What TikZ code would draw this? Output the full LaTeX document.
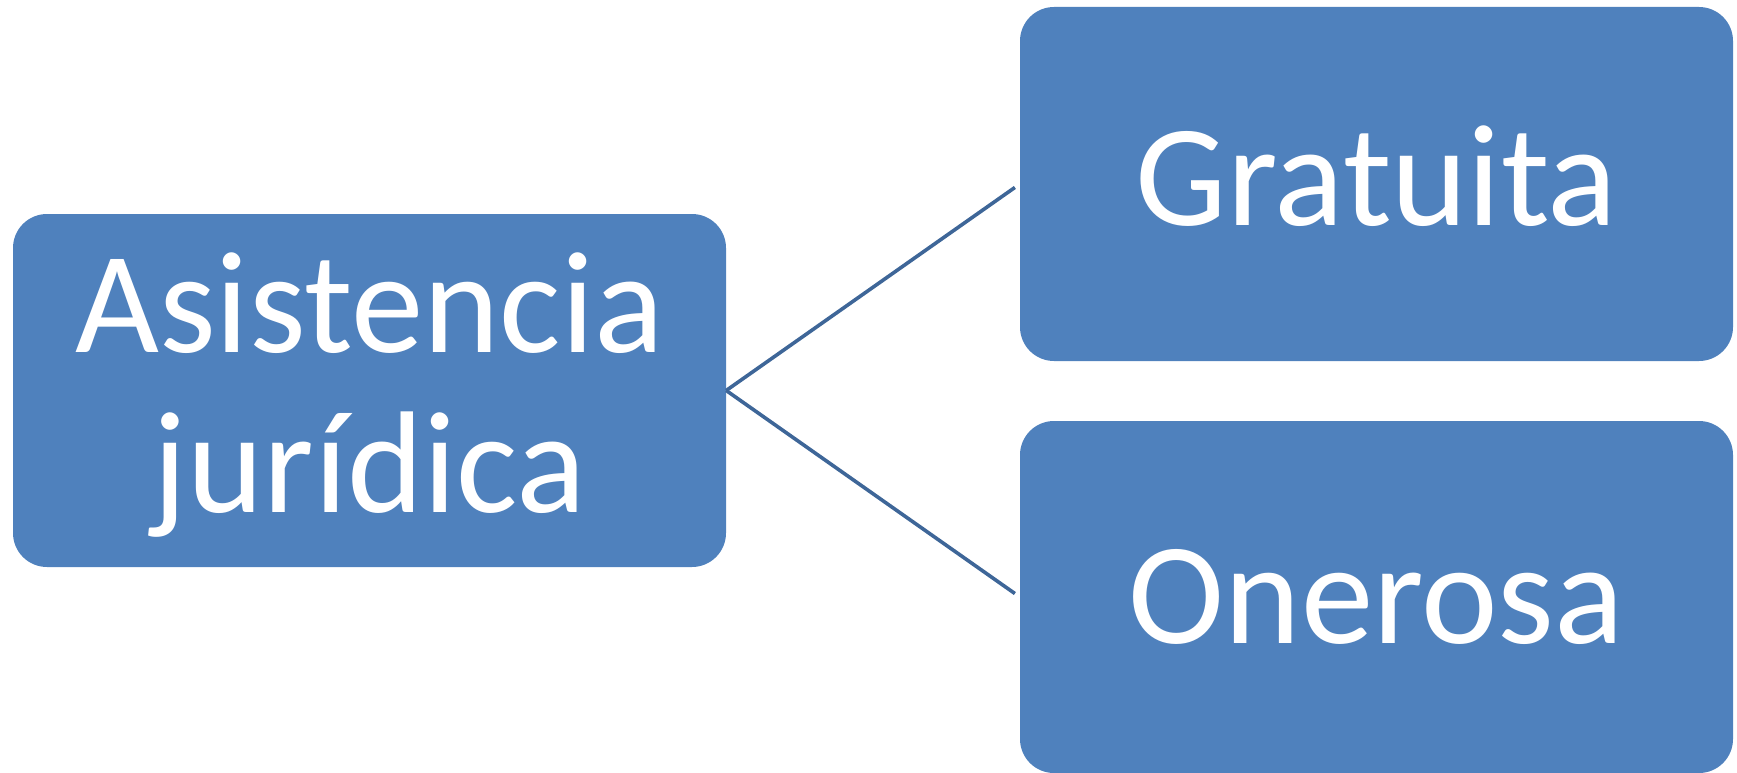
\documentclass[tikz,border=0pt]{standalone}
\usepackage{fontspec}
\setmainfont{Carlito}
\definecolor{boxblue}{HTML}{4F81BD}
\definecolor{lineblue}{RGB}{62,102,152}
\tikzset{
  box/.style={draw=none, fill=boxblue, rounded corners=34pt, minimum width=713pt, inner sep=0pt},
  lbl/.style={anchor=base, text=white, inner sep=0pt, font=\fontsize{145}{160}\selectfont},
  conn/.style={draw=lineblue, line width=3.6pt, shorten >=6pt}
}
\begin{document}
\begin{tikzpicture}[x=1pt,y=-1pt]
\useasboundingbox (0,0) rectangle (1737,773);
\node[box, minimum height=353pt] (L) at (369.5,390.5) {};
\node[box, minimum height=354pt] (T) at (1376.5,184) {};
\node[box, minimum height=352pt] (B) at (1376.5,597) {};
\draw[conn] (L.east) -- (T.west);
\draw[conn] (L.east) -- (B.west);
\node[lbl] (l1) at (369.5,352) {Asistencia};
\node[lbl] (l2) at (369.5,512) {jurídica};
\node[lbl] (t1) at (1376.5,225) {Gratuita};
\node[lbl] (b1) at (1376.5,643) {Onerosa};
\end{tikzpicture}
\end{document}
